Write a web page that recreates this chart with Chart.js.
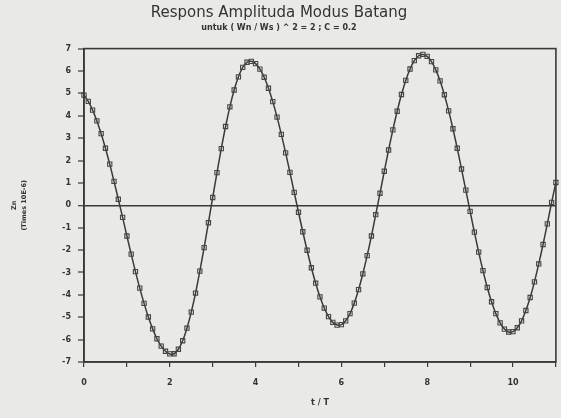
<!DOCTYPE html>
<html>
<head>
<meta charset="utf-8">
<script src="https://cdn.jsdelivr.net/npm/chart.js@4/dist/chart.umd.min.js"></script>
<style>
  html, body { margin: 0; padding: 0; background: #e9e9e5; }
  #wrap { width: 561px; height: 418px; }
</style>
</head>
<body>
<div id="wrap"><canvas id="c" width="561" height="418"></canvas></div>
<script>
// Time axis t / T (categories)
const tValues = [
  0.0,0.1,0.2,0.3,0.4,0.5,0.6,0.7,0.8,0.9,
  1.0,1.1,1.2,1.3,1.4,1.5,1.6,1.7,1.8,1.9,
  2.0,2.1,2.2,2.3,2.4,2.5,2.6,2.7,2.8,2.9,
  3.0,3.1,3.2,3.3,3.4,3.5,3.6,3.7,3.8,3.9,
  4.0,4.1,4.2,4.3,4.4,4.5,4.6,4.7,4.8,4.9,
  5.0,5.1,5.2,5.3,5.4,5.5,5.6,5.7,5.8,5.9,
  6.0,6.1,6.2,6.3,6.4,6.5,6.6,6.7,6.8,6.9,
  7.0,7.1,7.2,7.3,7.4,7.5,7.6,7.7,7.8,7.9,
  8.0,8.1,8.2,8.3,8.4,8.5,8.6,8.7,8.8,8.9,
  9.0,9.1,9.2,9.3,9.4,9.5,9.6,9.7,9.8,9.9,
  10.0,10.1,10.2,10.3,10.4,10.5,10.6,10.7,10.8,10.9,
  11.0
];
// Zn (Times 10E-6)
const znValues = [
  4.92,4.64,4.25,3.77,3.20,2.55,1.84,1.07,0.27,-0.54,
  -1.37,-2.18,-2.96,-3.70,-4.38,-4.99,-5.52,-5.96,-6.29,-6.52,
  -6.64,-6.63,-6.43,-6.05,-5.49,-4.77,-3.92,-2.94,-1.89,-0.78,
  0.35,1.46,2.53,3.52,4.40,5.15,5.74,6.16,6.39,6.43,
  6.33,6.08,5.72,5.23,4.63,3.94,3.17,2.34,1.47,0.58,
  -0.31,-1.18,-2.01,-2.79,-3.48,-4.09,-4.59,-4.97,-5.23,-5.35,
  -5.33,-5.16,-4.84,-4.37,-3.77,-3.06,-2.25,-1.37,-0.42,0.54,
  1.52,2.47,3.37,4.20,4.95,5.58,6.09,6.46,6.68,6.74,
  6.65,6.42,6.05,5.56,4.94,4.22,3.42,2.55,1.62,0.68,
  -0.27,-1.20,-2.09,-2.92,-3.67,-4.31,-4.84,-5.25,-5.53,-5.66,
  -5.64,-5.47,-5.16,-4.70,-4.12,-3.42,-2.62,-1.75,-0.83,0.13,
  1.02
];
const xTickLabels = [0, 2, 4, 6, 8, 10];
const yTickLabels = [-7,-6,-5,-4,-3,-2,-1,0,1,2,3,4,5,6,7];

const INK = '#3a3a3a';
const FONT = "'DejaVu Sans', sans-serif";

const framePlugin = {
  id: 'frame',
  afterDatasetsDraw(chart) {
    const a = chart.chartArea, ctx = chart.ctx;
    ctx.save();
    ctx.strokeStyle = INK;
    ctx.lineWidth = 1.6;
    ctx.strokeRect(a.left, a.top, a.right - a.left, a.bottom - a.top);
    ctx.restore();
  }
};

new Chart(document.getElementById('c'), {
  type: 'line',
  data: {
    datasets: [{
      data: tValues.map((t, i) => ({ x: t, y: znValues[i] })),
      borderColor: INK,
      borderWidth: 1.5,
      pointStyle: 'rect',
      pointRadius: 3,
      pointBorderWidth: 1.1,
      pointBorderColor: '#454545',
      pointBackgroundColor: 'rgba(0,0,0,0)',
      tension: 0.3,
      clip: false
    }]
  },
  options: {
    responsive: false,
    animation: false,
    layout: { padding: { left: 0, right: 3, top: 0, bottom: 0 } },
    plugins: {
      legend: { display: false },
      tooltip: { enabled: false },
      title: {
        display: true,
        text: 'Respons Amplituda Modus Batang',
        color: '#333333',
        font: { family: FONT, size: 15, weight: 'normal' },
        padding: { top: 4, bottom: 0 }
      },
      subtitle: {
        display: true,
        text: 'untuk ( Wn / Ws ) ^ 2 = 2 ; C = 0.2',
        color: '#333333',
        font: { family: FONT, size: 8, weight: 'bold' },
        padding: { top: 1, bottom: 16 }
      }
    },
    scales: {
      x: {
        type: 'linear',
        min: 0, max: 11,
        afterFit(s) { s.height = 56; s.paddingRight = 0; },
        afterBuildTicks(s) { s.ticks = []; for (let v = 0; v <= 11; v++) s.ticks.push({ value: v }); },
        border: { display: true, color: INK, width: 1.6 },
        grid: { drawOnChartArea: false, color: INK, tickColor: INK, tickLength: 5, lineWidth: 1.2 },
        ticks: {
          autoSkip: false,
          maxRotation: 0,
          padding: 11,
          color: '#333333',
          font: { family: FONT, size: 8, weight: 'bold' },
          callback: (v) => xTickLabels.includes(v) ? String(v) : ''
        },
        title: {
          display: true,
          text: 't / T',
          color: '#333333',
          font: { family: FONT, size: 8, weight: 'bold' },
          padding: { top: 4, bottom: 10 }
        }
      },
      y: {
        min: -7, max: 7,
        afterFit(s) { s.width = 84; },
        afterBuildTicks(s) { s.ticks = yTickLabels.map(v => ({ value: v })); },
        border: { display: true, color: INK, width: 1.6 },
        grid: {
          drawOnChartArea: true,
          color: (c) => c.tick && c.tick.value === 0 ? INK : 'rgba(0,0,0,0)',
          lineWidth: (c) => c.tick && c.tick.value === 0 ? 1.4 : 0,
          tickColor: INK,
          tickLength: 6,
          tickWidth: 1.2
        },
        ticks: {
          padding: 7,
          color: '#333333',
          font: { family: FONT, size: 8, weight: 'bold' }
        },
        title: {
          display: true,
          text: ['Zn', '(Times 10E-6)'],
          color: '#333333',
          font: { family: FONT, size: 6.5, weight: 'bold', lineHeight: 1.6 },
          padding: { top: 9, bottom: 0 }
        }
      }
    }
  },
  plugins: [framePlugin]
});
</script>
</body>
</html>
